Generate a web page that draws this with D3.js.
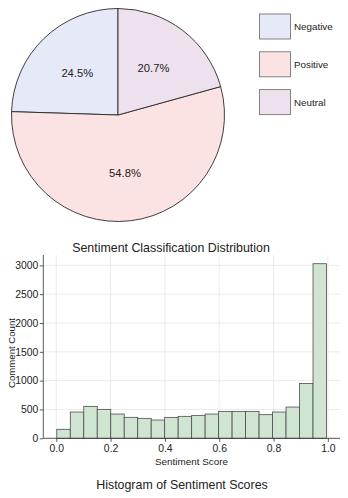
<!DOCTYPE html>
<html>
<head>
<meta charset="utf-8">
<script src="https://cdn.jsdelivr.net/npm/d3@7"></script>
<style>
  html, body { margin: 0; padding: 0; background: #fff; }
  svg { display: block; font-family: "Liberation Sans", Arial, sans-serif; }
</style>
</head>
<body>
<svg id="chart" width="348" height="498"></svg>
<script>
// ---- data ----
const sentimentLabels = ["Negative", "Positive", "Neutral"];
const sentimentShares = [24.5, 54.8, 20.7];
const sentimentColors = ["#e6e9f8", "#fce3e3", "#eee1ee"];

const histCounts = [156, 456, 554, 502, 421, 364, 346, 317, 363, 381,
                    398, 421, 467, 467, 467, 410, 456, 542, 952, 3029];
const scoreRange = [0.002, 0.995];
const xTickValues = [0.0, 0.2, 0.4, 0.6, 0.8, 1.0];
const yTickValues = [0, 500, 1000, 1500, 2000, 2500, 3000];

const pieTitle = "Sentiment Classification Distribution";
const histTitle = "Histogram of Sentiment Scores";
const xLabel = "Sentiment Score";
const yLabel = "Comment Count";

// ---- pie ----
const svg = d3.select("#chart");
const cx = 118, cy = 115, R = 106.5;
const pie = d3.pie().sort(null).value(d => d).startAngle(0).endAngle(-2 * Math.PI);
const arcs = pie(sentimentShares);
const arc = d3.arc().innerRadius(0).outerRadius(R);
const labelArc = d3.arc().innerRadius(R * 0.55).outerRadius(R * 0.55);

const gPie = svg.append("g").attr("transform", `translate(${cx},${cy})`);
gPie.selectAll("path").data(arcs).enter().append("path")
  .attr("d", arc)
  .attr("fill", (d, i) => sentimentColors[i])
  .attr("stroke", "#2a2a2a")
  .attr("stroke-width", 0.9);
gPie.selectAll("text").data(arcs).enter().append("text")
  .attr("transform", d => `translate(${labelArc.centroid(d)})`)
  .attr("text-anchor", "middle")
  .attr("dy", "0.36em")
  .attr("font-size", 11.2)
  .attr("fill", "#222")
  .text(d => d.data.toFixed(1) + "%");

// legend
const gLeg = svg.append("g").attr("transform", "translate(259.5,14)");
sentimentLabels.forEach((lab, i) => {
  const g = gLeg.append("g").attr("transform", `translate(0,${i * 37.8})`);
  g.append("rect").attr("width", 31).attr("height", 25)
    .attr("fill", sentimentColors[i]).attr("stroke", "#777").attr("stroke-width", 0.9);
  g.append("text").attr("x", 34.5).attr("y", 12.5).attr("dy", "0.35em")
    .attr("font-size", 9.8).attr("fill", "#222").text(lab);
});

svg.append("text").attr("x", 171).attr("y", 251.6).attr("text-anchor", "middle")
  .attr("font-size", 12.4).attr("fill", "#222").text(pieTitle);

// ---- histogram ----
const plot = { left: 43.3, right: 340, top: 255, bottom: 438.3 };
const x = d3.scaleLinear().domain([-0.0477, 1.0447]).range([plot.left, plot.right]);
const y = d3.scaleLinear().domain([0, 3180]).range([plot.bottom, plot.top]);

const nb = histCounts.length;
const bw = (scoreRange[1] - scoreRange[0]) / nb;
const bins = histCounts.map((c, i) => ({ x0: scoreRange[0] + i * bw, x1: scoreRange[0] + (i + 1) * bw, c }));

const gH = svg.append("g");
// grid
gH.selectAll("line.vg").data(xTickValues).enter().append("line")
  .attr("x1", d => x(d)).attr("x2", d => x(d))
  .attr("y1", plot.top).attr("y2", plot.bottom)
  .attr("stroke", "#e6e6e6").attr("stroke-width", 0.8);
gH.selectAll("line.hg").data(yTickValues).enter().append("line")
  .attr("x1", plot.left).attr("x2", plot.right)
  .attr("y1", d => y(d)).attr("y2", d => y(d))
  .attr("stroke", "#e6e6e6").attr("stroke-width", 0.8);

// bars
gH.selectAll("rect.bar").data(bins).enter().append("rect")
  .attr("x", d => x(d.x0)).attr("width", d => x(d.x1) - x(d.x0))
  .attr("y", d => y(d.c)).attr("height", d => y(0) - y(d.c))
  .attr("fill", "#cfe5d2").attr("stroke", "#4d4d4d").attr("stroke-width", 0.8);

// axes
const xAxis = d3.axisBottom(x).tickValues(xTickValues).tickFormat(d3.format(".1f")).tickSize(3.5).tickPadding(2.5);
const yAxis = d3.axisLeft(y).tickValues(yTickValues).tickFormat(d3.format("d")).tickSize(3.5).tickPadding(1.5);
const gx = svg.append("g").attr("transform", `translate(0,${plot.bottom})`).call(xAxis);
const gy = svg.append("g").attr("transform", `translate(${plot.left},0)`).call(yAxis);
[gx, gy].forEach(g => {
  g.select(".domain").remove();
  g.selectAll(".tick line").attr("stroke", "#333").attr("stroke-width", 0.8);
  g.selectAll(".tick text").attr("font-size", 10.4).attr("fill", "#222")
    .attr("font-family", "Liberation Sans, Arial, sans-serif");
});
svg.append("line").attr("x1", plot.left).attr("x2", plot.right)
  .attr("y1", plot.bottom).attr("y2", plot.bottom).attr("stroke", "#333").attr("stroke-width", 0.8);
svg.append("line").attr("x1", plot.left).attr("x2", plot.left)
  .attr("y1", plot.top).attr("y2", plot.bottom).attr("stroke", "#333").attr("stroke-width", 0.8);

svg.append("text").attr("x", 191.5).attr("y", 465.2).attr("text-anchor", "middle")
  .attr("font-size", 9.9).attr("fill", "#222").text(xLabel);
svg.append("text").attr("transform", "translate(14.5,353) rotate(-90)").attr("text-anchor", "middle")
  .attr("font-size", 9.6).attr("fill", "#222").text(yLabel);
svg.append("text").attr("x", 182).attr("y", 489).attr("text-anchor", "middle")
  .attr("font-size", 12.4).attr("fill", "#222").text(histTitle);
</script>
</body>
</html>
